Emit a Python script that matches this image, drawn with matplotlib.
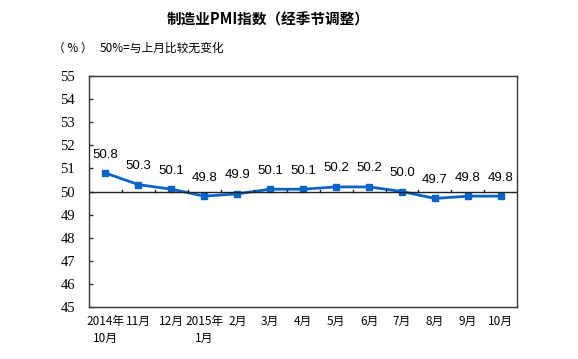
import matplotlib
matplotlib.use('Agg')
import matplotlib.pyplot as plt
import numpy as np

months = ['2014年\n10月', '11月', '12月', '2015年\n1月', '2月', '3月', '4月',
          '5月', '6月', '7月', '8月', '9月', '10月']
pmi = [50.8, 50.3, 50.1, 49.8, 49.9, 50.1, 50.1, 50.2, 50.2, 50.0, 49.7, 49.8, 49.8]
yticks = [45, 46, 47, 48, 49, 50, 51, 52, 53, 54, 55]

cjk = ['Noto Sans CJK SC', 'DejaVu Sans']
serif = ['Liberation Serif', 'DejaVu Serif']
blue = '#0a64c8'

fig = plt.figure(figsize=(5.78, 3.59), dpi=100)
ax = fig.add_axes([0.154, 0.145, 0.741, 0.643])

x = np.arange(len(months))
ax.plot(x, pmi, color=blue, lw=2, marker='s', ms=4.5, solid_joinstyle='round')
for xi, v in zip(x, pmi):
    ax.annotate('%.1f' % v, (xi, v), xytext=(0, 9), textcoords='offset points',
                ha='center', va='bottom', fontsize=9.5, family='Liberation Sans')

ax.set_xlim(-0.5, len(months) - 0.5)
ax.set_ylim(45, 55)
ax.set_yticks(yticks)
ax.set_yticklabels([str(t) for t in yticks])
for lab in ax.get_yticklabels():
    lab.set_family(serif)
    lab.set_fontsize(10.5)
ax.tick_params(axis='y', direction='in', length=3, width=1, color='#333333', pad=10)

# x axis drawn at 50 with ticks between categories
ax.axhline(50, color='#222222', lw=1)
ax.set_xticks(x)
ax.set_xticklabels(months, family=cjk, fontsize=8.5, linespacing=1.35)
ax.tick_params(axis='x', length=0, pad=6)
for b in np.arange(0.5, len(months) - 1, 1):
    ax.plot([b, b], [50, 50.07], color='#222222', lw=1)

for s in ax.spines.values():
    s.set_color('#333333')
    s.set_linewidth(1)

fig.text(0.464, 0.945, '制造业PMI指数（经季节调整）', ha='center', va='center',
         fontsize=10.5, weight='bold', family=cjk)
fig.text(0.092, 0.866, '（ % ）', ha='left', va='center', fontsize=8.5, family=cjk)
fig.text(0.173, 0.866, '50%=与上月比较无变化', ha='left', va='center', fontsize=8.5, family=cjk)

fig.savefig('out.png', dpi=100)
